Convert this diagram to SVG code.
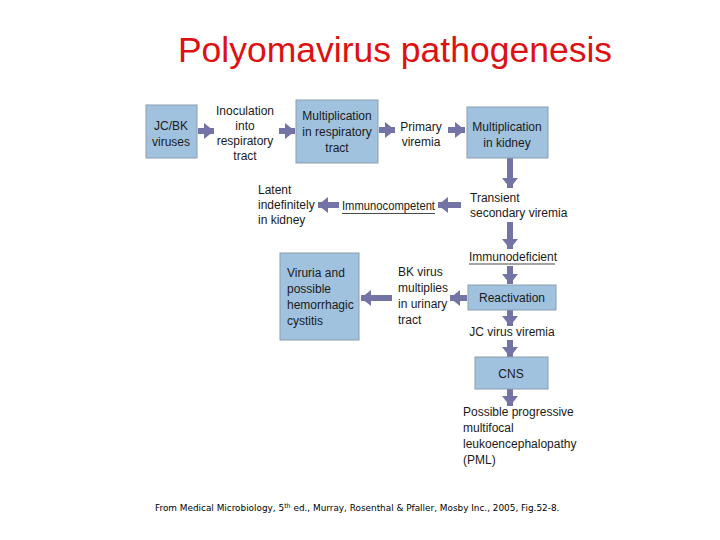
<svg xmlns="http://www.w3.org/2000/svg" width="720" height="540" viewBox="0 0 720 540">
<style>
.t{font-family:"Liberation Sans",Arial,sans-serif;font-size:12px;fill:#1a1a1a}
.c{text-anchor:middle}
.box{fill:#a0c2df;stroke:#8a9db0;stroke-width:1}
.ar{stroke:#7373a6;stroke-width:6;fill:none}
.ul{stroke:#1a1a1a;stroke-width:0.8}
</style>
<defs>
<marker id="ah" markerUnits="userSpaceOnUse" markerWidth="10" markerHeight="16" refX="10" refY="8" orient="auto">
<path d="M0,0 L10,8 L0,16 z" fill="#7373a6"/>
</marker>
</defs>
<rect width="720" height="540" fill="#ffffff"/>
<text x="395" y="62" text-anchor="middle" font-family="Liberation Sans,Arial,sans-serif" font-size="35.5" fill="#dd1111">Polyomavirus pathogenesis</text>

<g id="connectors">
<line class="ar" x1="198" y1="131" x2="214" y2="131" marker-end="url(#ah)"/>
<line class="ar" x1="279" y1="131" x2="295" y2="131" marker-end="url(#ah)"/>
<line class="ar" x1="379" y1="130" x2="395" y2="130" marker-end="url(#ah)"/>
<line class="ar" x1="448" y1="130" x2="465" y2="130" marker-end="url(#ah)"/>
<line class="ar" x1="510" y1="158" x2="510" y2="188" marker-end="url(#ah)"/>
<line class="ar" x1="461" y1="205" x2="438" y2="205" marker-end="url(#ah)"/>
<line class="ar" x1="339" y1="205" x2="318" y2="205" marker-end="url(#ah)"/>
<line class="ar" x1="510" y1="222" x2="510" y2="249" marker-end="url(#ah)"/>
<line class="ar" x1="510" y1="266" x2="510" y2="284" marker-end="url(#ah)"/>
<line class="ar" x1="467" y1="298" x2="450" y2="298" marker-end="url(#ah)"/>
<line class="ar" x1="392" y1="298" x2="361" y2="298" marker-end="url(#ah)"/>
<line class="ar" x1="510" y1="310" x2="510" y2="326" marker-end="url(#ah)"/>
<line class="ar" x1="510" y1="340" x2="510" y2="357" marker-end="url(#ah)"/>
<line class="ar" x1="510" y1="389" x2="510" y2="406" marker-end="url(#ah)"/>
</g>

<g id="jcbk">
<rect class="box" x="146" y="105" width="51" height="53"/>
<text class="t c" x="171" y="130">JC/BK</text>
<text class="t c" x="171" y="146">viruses</text>
</g>
<g id="inoculation">
<text class="t c" x="245" y="115">Inoculation</text>
<text class="t c" x="245" y="130">into</text>
<text class="t c" x="245" y="145">respiratory</text>
<text class="t c" x="245" y="160">tract</text>
</g>
<g id="multresp">
<rect class="box" x="296" y="100" width="82" height="63"/>
<text class="t c" x="337" y="120">Multiplication</text>
<text class="t c" x="337" y="136">in respiratory</text>
<text class="t c" x="337" y="152">tract</text>
</g>
<g id="primary">
<text class="t c" x="421" y="131">Primary</text>
<text class="t c" x="421" y="146">viremia</text>
</g>
<g id="multkidney">
<rect class="box" x="467" y="107" width="81" height="51"/>
<text class="t c" x="507" y="131">Multiplication</text>
<text class="t c" x="507" y="147">in kidney</text>
</g>
<g id="transient">
<text class="t" x="470" y="202">Transient</text>
<text class="t" x="470" y="217">secondary viremia</text>
</g>
<g id="immunocompetent">
<text class="t" x="342" y="210" textLength="93" lengthAdjust="spacingAndGlyphs">Immunocompetent</text>
<line class="ul" x1="342" y1="213.5" x2="435" y2="213.5"/>
</g>
<g id="latent">
<text class="t" x="258" y="194">Latent</text>
<text class="t" x="258" y="209">indefinitely</text>
<text class="t" x="258" y="224">in kidney</text>
</g>
<g id="immunodeficient">
<text class="t" x="469" y="261">Immunodeficient</text>
<line class="ul" x1="469" y1="264" x2="555" y2="264"/>
</g>
<g id="reactivation">
<rect class="box" x="468" y="285" width="88" height="25"/>
<text class="t c" x="512" y="302">Reactivation</text>
</g>
<g id="bkvirus">
<text class="t" x="398" y="276">BK virus</text>
<text class="t" x="398" y="292">multiplies</text>
<text class="t" x="398" y="308">in urinary</text>
<text class="t" x="398" y="324">tract</text>
</g>
<g id="viruria">
<rect class="box" x="280" y="253" width="79" height="87"/>
<text class="t" x="287" y="277">Viruria and</text>
<text class="t" x="287" y="293">possible</text>
<text class="t" x="287" y="309">hemorrhagic</text>
<text class="t" x="287" y="325">cystitis</text>
</g>
<g id="jcviremia">
<text class="t c" x="512" y="336">JC virus viremia</text>
</g>
<g id="cns">
<rect class="box" x="475" y="357" width="73" height="32"/>
<text class="t c" x="511" y="378">CNS</text>
</g>
<g id="pml">
<text class="t" x="463" y="416">Possible progressive</text>
<text class="t" x="463" y="432">multifocal</text>
<text class="t" x="463" y="448">leukoencephalopathy</text>
<text class="t" x="463" y="464">(PML)</text>
</g>
<text x="155" y="511" font-family="DejaVu Sans,Verdana,sans-serif" font-size="8.9" fill="#000">From Medical Microbiology, 5<tspan font-size="6.3" dy="-3">th</tspan><tspan dy="3"> ed., Murray, Rosenthal &amp; Pfaller, Mosby Inc., 2005, Fig.52-8.</tspan></text>
</svg>
